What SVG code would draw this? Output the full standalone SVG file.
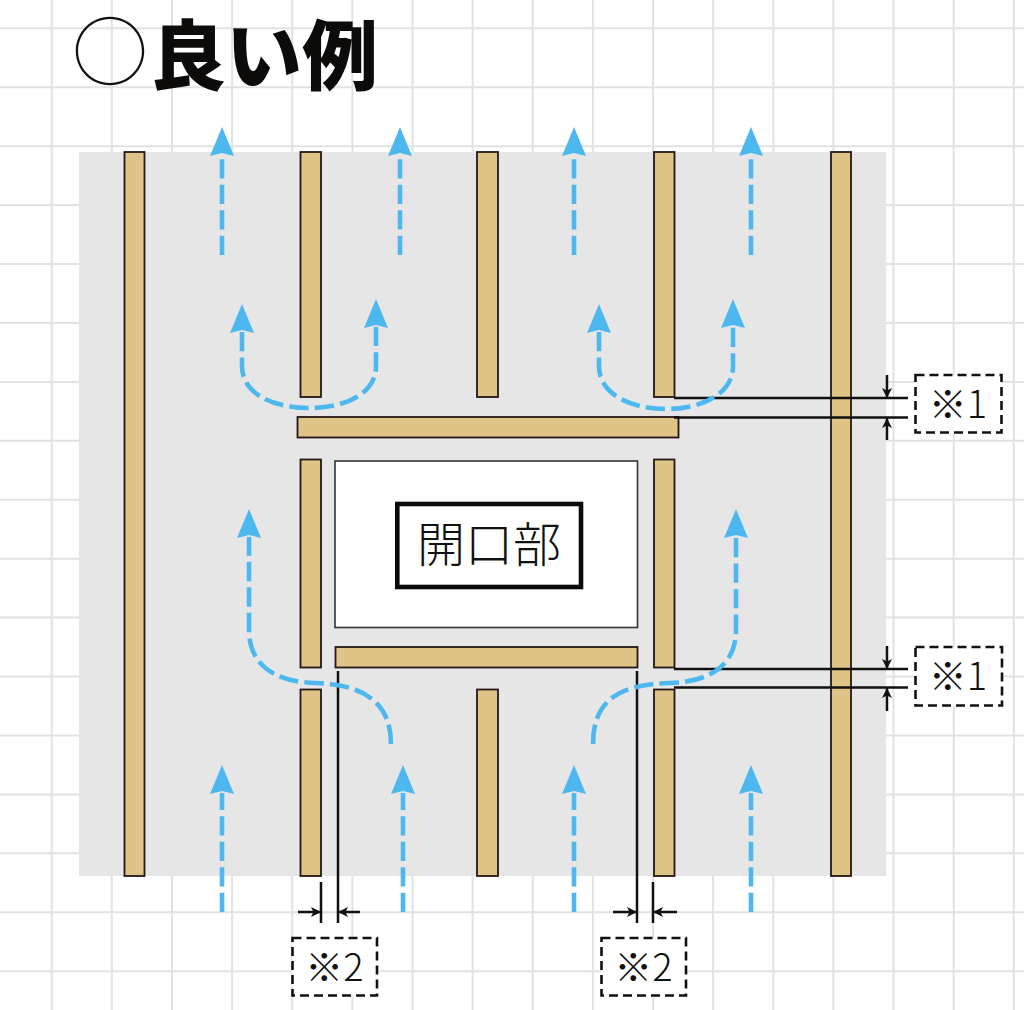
<svg xmlns="http://www.w3.org/2000/svg" width="1024" height="1010" viewBox="0 0 1024 1010">
<defs>
<style>
.grid{stroke:#e2e2e2;stroke-width:2;fill:none}
.wood{fill:#dfc387;stroke:#231815;stroke-width:1.8}
.flow{fill:none;stroke:#4db8ef;stroke-width:4.6;stroke-dasharray:19.3 6.2}
.dim{fill:none;stroke:#111;stroke-width:2.5}
.dimbox{fill:#fff;stroke:#111;stroke-width:2.6;stroke-dasharray:9 5}
.lbl{font-family:"Noto Sans CJK JP","Noto Sans",sans-serif;font-weight:300;fill:#111}
</style>
<marker id="blueHead" viewBox="0 -12 29 24" refX="1" refY="0" markerWidth="29" markerHeight="24" markerUnits="userSpaceOnUse" orient="auto-start-reverse">
<path d="M0,-12 L29,0 L0,12 L3,0 Z" fill="#4db8ef"/>
</marker>
<marker id="dimHead" viewBox="0 -5 10 10" refX="10" refY="0" markerWidth="10" markerHeight="10" markerUnits="userSpaceOnUse" orient="auto">
<path d="M0,-5 L10,0 L0,5 L2.5,0 Z" fill="#111"/>
</marker>
</defs>
<rect width="1024" height="1010" fill="#fff"/>
<g id="grid">
<path class="grid" d="M51.7,0V1010M111.8,0V1010M172,0V1010M232.1,0V1010M292.2,0V1010M352.4,0V1010M412.5,0V1010M472.6,0V1010M532.7,0V1010M592.9,0V1010M653,0V1010M713.1,0V1010M773.3,0V1010M833.4,0V1010M893.5,0V1010M953.7,0V1010M1013.8,0V1010M0,28.3H1024M0,87.2H1024M0,146.2H1024M0,205.1H1024M0,264H1024M0,323H1024M0,381.9H1024M0,440.8H1024M0,499.7H1024M0,558.7H1024M0,617.6H1024M0,676.5H1024M0,735.5H1024M0,794.4H1024M0,853.3H1024M0,912.3H1024M0,971.2H1024"/>
</g>
<g id="title">
<text x="110" y="80" text-anchor="middle" style="font-family:'Noto Sans CJK JP',sans-serif;font-weight:100;font-size:76px;fill:#111">○</text>
<text x="150" y="84" style="font-family:'Noto Sans CJK JP',sans-serif;font-weight:900;font-size:76px;fill:#0d0b09">良い例</text>
</g>
<rect id="wall" x="79" y="152" width="807" height="724" fill="#e6e6e6"/>
<g id="studs">
<rect id="stud1" class="wood" x="124.5" y="152" width="20" height="724"/>
<rect id="stud2-top" class="wood" x="300.5" y="152" width="20.5" height="245"/>
<rect id="stud2-mid" class="wood" x="300.5" y="459.5" width="20.5" height="208"/>
<rect id="stud2-bot" class="wood" x="300.5" y="689.5" width="20.5" height="186.5"/>
<rect id="stud3-top" class="wood" x="477" y="152" width="21" height="245"/>
<rect id="stud3-bot" class="wood" x="477" y="689.5" width="21" height="186.5"/>
<rect id="stud4-top" class="wood" x="654" y="152" width="20.5" height="245"/>
<rect id="stud4-mid" class="wood" x="654" y="459.5" width="20.5" height="208"/>
<rect id="stud4-bot" class="wood" x="654" y="689.5" width="20.5" height="186.5"/>
<rect id="stud5" class="wood" x="831" y="152" width="20" height="724"/>
</g>
<g id="header"><rect class="wood" x="297.5" y="417" width="381" height="20.5"/></g>
<g id="sill"><rect class="wood" x="335.5" y="647" width="302" height="20.5"/></g>
<g id="opening">
<rect x="335" y="461" width="302.5" height="166.5" fill="#fff" stroke="#333" stroke-width="1.6"/>
<rect x="397.3" y="504" width="183.7" height="83" fill="#fff" stroke="#0d0b09" stroke-width="4.6"/>
<text class="lbl" x="489" y="562" text-anchor="middle" style="font-size:48px">開口部</text>
</g>
<g id="connectors">
<g id="dimensions">
<path class="dim" d="M674,398H908M674,417.5H908"/>
<path class="dim" d="M887,375V398" marker-end="url(#dimHead)"/>
<path class="dim" d="M887,440V418" marker-end="url(#dimHead)"/>
<path class="dim" d="M674,669H908M674,687.5H908"/>
<path class="dim" d="M887,646V669" marker-end="url(#dimHead)"/>
<path class="dim" d="M887,711V688" marker-end="url(#dimHead)"/>
<path class="dim" d="M338,671V923M321,882V923"/>
<path class="dim" d="M298,912H321" marker-end="url(#dimHead)"/>
<path class="dim" d="M360,912H338" marker-end="url(#dimHead)"/>
<path class="dim" d="M637,671V923M653,882V923"/>
<path class="dim" d="M613,912H637" marker-end="url(#dimHead)"/>
<path class="dim" d="M677,912H653" marker-end="url(#dimHead)"/>
</g>
<g id="airflow">
<path class="flow" d="M222,255V155" marker-end="url(#blueHead)"/>
<path class="flow" d="M400,255V155" marker-end="url(#blueHead)"/>
<path class="flow" d="M574,255V155" marker-end="url(#blueHead)"/>
<path class="flow" d="M751,255V155" marker-end="url(#blueHead)"/>
<path class="flow" d="M242,332V366C242,395 275,408 309,408C343,408 376,395 376,366V327" marker-start="url(#blueHead)" marker-end="url(#blueHead)"/>
<path class="flow" d="M599,332V366C599,395 632,409 666,409C700,409 733,395 733,366V327" marker-start="url(#blueHead)" marker-end="url(#blueHead)"/>
<path class="flow" d="M391,744C391,700 360,684 315,683C275,682 249,665 249,630V537" marker-end="url(#blueHead)"/>
<path class="flow" d="M593,744C593,700 620,684 670,683C710,682 736,665 736,630V537" marker-end="url(#blueHead)"/>
<path class="flow" d="M222,912V793" marker-end="url(#blueHead)"/>
<path class="flow" d="M403,912V793" marker-end="url(#blueHead)"/>
<path class="flow" d="M574,912V793" marker-end="url(#blueHead)"/>
<path class="flow" d="M751,912V793" marker-end="url(#blueHead)"/>
</g>
</g>
<g id="note1-top">
<rect class="dimbox" x="915.5" y="375" width="86" height="57.5"/>
<text class="lbl" x="958" y="418" text-anchor="middle" style="font-size:38px">※1</text>
</g>
<g id="note1-bottom">
<rect class="dimbox" x="915.5" y="647" width="86.5" height="58.5"/>
<text class="lbl" x="958" y="690" text-anchor="middle" style="font-size:38px">※1</text>
</g>
<g id="note2-left">
<rect class="dimbox" x="292.5" y="938" width="84.5" height="57.5"/>
<text class="lbl" x="334.5" y="981" text-anchor="middle" style="font-size:38px">※2</text>
</g>
<g id="note2-right">
<rect class="dimbox" x="601.5" y="938" width="84.5" height="57.5"/>
<text class="lbl" x="643.5" y="981" text-anchor="middle" style="font-size:38px">※2</text>
</g>
</svg>
